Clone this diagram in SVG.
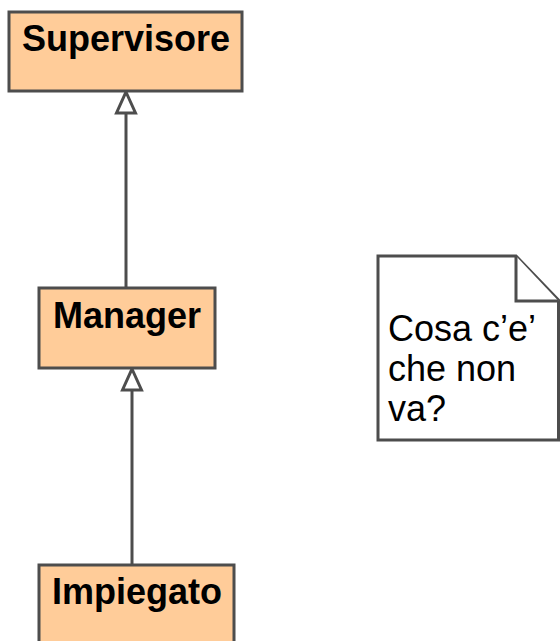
<svg xmlns="http://www.w3.org/2000/svg" width="560" height="641" viewBox="0 0 560 641">
  <style>
    .cls rect { fill: #ffcc99; stroke: #4d4d4d; stroke-width: 3; }
    .cls text { font-family: "Liberation Sans", Arial, sans-serif; font-weight: bold; font-size: 36px; fill: #000; text-anchor: middle; }
    .edge line { fill: none; stroke: #4d4d4d; stroke-width: 3; }
    .edge path { fill: #fff; stroke: #4d4d4d; stroke-width: 3; stroke-linejoin: miter; }
    .note path { fill: #fff; stroke: #4d4d4d; stroke-width: 3; stroke-linejoin: miter; }
    .note text { font-family: "Liberation Sans", Arial, sans-serif; font-size: 36px; fill: #000; }
  </style>
  <defs>
    <!-- hollow generalization head, tip at origin, pointing up -->
    <path id="gen" d="M0,0 L9.5,21 L-9.5,21 Z"/>
  </defs>
  <rect width="560" height="641" fill="#fff"/>

  <g id="connectors" class="edge">
    <line x1="126" y1="288" x2="126" y2="112"/>
    <path d="M126,92 L135.5,113 L116.5,113 Z"/>
    <line x1="132" y1="565" x2="132" y2="390"/>
    <path d="M132,369 L141.5,390 L122.5,390 Z"/>
  </g>

  <g id="supervisore" class="cls">
    <rect x="9" y="12" width="233" height="79"/>
    <text x="126" y="51">Supervisore</text>
  </g>
  <g id="manager" class="cls">
    <rect x="39" y="288" width="176" height="80"/>
    <text x="127" y="328">Manager</text>
  </g>
  <g id="impiegato" class="cls">
    <rect x="39" y="565" width="195" height="80"/>
    <text x="137" y="604">Impiegato</text>
  </g>

  <g id="note" class="note">
    <path d="M378,256 H516 L558.5,300 V440 H378 Z"/>
    <path d="M516,256 V301 H558.5" fill="none"/>
    <text x="388" y="341">Cosa c’e’</text>
    <text x="388" y="381">che non</text>
    <text x="388" y="421">va?</text>
  </g>
</svg>
